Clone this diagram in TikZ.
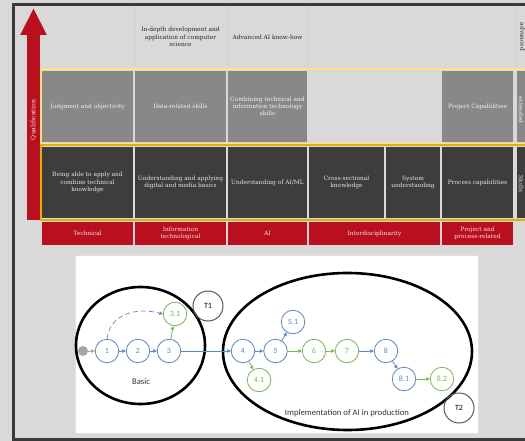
\documentclass[tikz,border=0pt]{standalone}
\usepackage{fontspec}
\setmainfont{DejaVu Serif}
\newfontfamily\diagfont{Carlito}
\usetikzlibrary{arrows.meta, positioning}

\definecolor{pagegray}{HTML}{D9D9D9}
\definecolor{framegray}{HTML}{3A3A3A}
\definecolor{qualred}{HTML}{BA0F1F}
\definecolor{upgray}{HTML}{888888}
\definecolor{lowgray}{HTML}{3D3D3D}
\definecolor{lightgold}{HTML}{FFE37D}
\definecolor{deepgold}{HTML}{E0B100}
\definecolor{stepblue}{HTML}{5B86D6}
\definecolor{stepgreen}{HTML}{7CB853}
\definecolor{ringgray}{HTML}{5A5A5A}
\definecolor{dotgray}{HTML}{A6A6A6}

\tikzset{
  tabtext/.style={font=\fontsize{5.9}{7.3}\selectfont, align=center, inner sep=0pt},
  headtext/.style={tabtext, text=black!85},
  upcell/.style={tabtext, fill=upgray, text=white!94!black, minimum height=71bp},
  lowcell/.style={tabtext, fill=lowgray, text=white!90!black, minimum height=71bp},
  catcell/.style={tabtext, fill=qualred, text=white!88!qualred, minimum height=23bp},
  sidetext/.style={tabtext, rotate=-90},
  headline/.style={pagegray!95!black, line width=0.5bp},
  qualarrow/.style={draw=qualred, line width=13bp, -{Triangle[length=27bp, width=24.5bp]}},
  bluestep/.style={circle, draw=stepblue, text=stepblue, line width=0.8bp, minimum size=23.5bp,
    inner sep=0pt, font=\diagfont\fontsize{8}{9}\selectfont},
  greenstep/.style={bluestep, draw=stepgreen, text=stepgreen},
  tnode/.style={circle, draw=ringgray, line width=1bp, minimum size=30bp, inner sep=0pt,
    font=\diagfont\fontsize{8}{9}\selectfont},
  startdot/.style={circle, fill=dotgray, minimum size=10bp, inner sep=0pt},
  grouplabel/.style={font=\diagfont\fontsize{8.7}{10}\selectfont, text=black!80, inner sep=0pt},
  groupring/.style={draw=black, line width=2.6bp},
  steplink/.style={line width=0.7bp, -{Triangle[length=3.5bp, width=3.5bp]}},
  bluelink/.style={steplink, draw=stepblue, fill=stepblue},
  greenlink/.style={steplink, draw=stepgreen, fill=stepgreen},
  graylink/.style={steplink, draw=dotgray, fill=dotgray},
}

\begin{document}
\begin{tikzpicture}[x=1bp, y=-1bp]
  \useasboundingbox (0,0) rectangle (525,441);
  \clip (0,0) rectangle (525,441);
  \fill[pagegray] (0,0) rectangle (525,441);
  % outer frame
  \draw[framegray, line width=3bp] (13.5,5) rectangle (560,439.7);
  \foreach \xs in {134,227,308,516}
    \draw[headline] (\xs,7) -- (\xs,67);

  % header row
  \node[headtext] (hdB) at (180.5,37) {In-depth development and\\application of computer\\science};
  \node[headtext] (hdC) at (267.5,37) {Advanced AI know-how};
  \node[sidetext, text=black!85] (hdG) at (522.5,37) {advanced};

  % yellow bands
  \draw[lightgold, line width=1.8bp] (41,69) rectangle (560,144);
  \draw[deepgold, line width=2bp] (41,145.5) rectangle (560,220);

  % upper row
  \node[upcell, minimum width=91bp] (upA) at (87.5,106.5) {Judgment and objectivity};
  \node[upcell, minimum width=91bp] (upB) at (180.5,106.5) {Data-related skills};
  \node[upcell, minimum width=79bp] (upC) at (267.5,106.5) {Combining technical and\\information technology\\skills};
  \node[upcell, minimum width=71bp] (upF) at (477.5,106.5) {Project Capabilities};
  \node[upcell, minimum width=24bp] (upG) at (529,106.5) {};
  \node[sidetext, text=white!94!black] (upGtext) at (521,110) {extended};

  % lower row
  \node[lowcell, minimum width=91bp] (loA) at (87.5,182.5) {Being able to apply and\\combine technical\\knowledge};
  \node[lowcell, minimum width=91bp] (loB) at (180.5,182.5) {Understanding and applying\\digital and media basics};
  \node[lowcell, minimum width=79bp] (loC) at (267.5,182.5) {Understanding of AI/ML};
  \node[lowcell, minimum width=75bp] (loD) at (346.5,182.5) {Cross-sectional\\knowledge};
  \node[lowcell, minimum width=54bp] (loE) at (413,182.5) {System\\understanding};
  \node[lowcell, minimum width=71bp] (loF) at (477.5,182.5) {Process capabilities};
  \node[lowcell, minimum width=24bp] (loG) at (529,182.5) {};
  \node[sidetext, text=white!90!black] (loGtext) at (521,184) {Skills};

  % categories
  \node[catcell, minimum width=91bp] (catA) at (87.5,233.5) {Technical};
  \node[catcell, minimum width=91bp] (catB) at (180.5,233.5) {Information\\technological};
  \node[catcell, minimum width=79bp] (catC) at (267.5,233.5) {AI};
  \node[catcell, minimum width=131bp] (catD) at (374.5,233.5) {Interdisciplinarity};
  \node[catcell, minimum width=71bp] (catF) at (477.5,233.5) {Project and\\process-related};

  % qualification axis
  \coordinate (qbase) at (33.5,220);
  \coordinate (qtop) at (33.5,8);
  \draw[qualarrow] (qbase) -- (qtop);
  \node[tabtext, rotate=90, font=\fontsize{6.2}{7}\selectfont, text=white!88!qualred] (qlabel) at (33.5,120) {Qualification};

  % learning path panel
  \draw[draw=black!12, fill=white, line width=0.6bp] (75,255) rectangle (478,433);
  \draw[groupring] (140.5,345.5) ellipse [x radius=64.5bp, y radius=58.5bp];
  \draw[groupring] (347.5,351.5) ellipse [x radius=124.5bp, y radius=78.5bp];
  \node[grouplabel] (basiclbl) at (141,382) {Basic};
  \node[grouplabel] (impllbl) at (347,413) {Implementation of AI in production};
  \node[tnode] (t1) at (208,306) {T1};
  \node[tnode] (t2) at (459,408) {T2};

  \node[startdot] (s0) at (83,351) {};
  \node[bluestep] (n1) at (107,351) {1};
  \node[bluestep] (n2) at (138,351) {2};
  \node[bluestep] (n3) at (169,351) {3};
  \node[greenstep] (n31) at (175,314) {3.1};
  \node[bluestep] (n4) at (243,351) {4};
  \node[greenstep] (n41) at (259,380) {4.1};
  \node[bluestep] (n5) at (275.5,351) {5};
  \node[bluestep] (n51) at (293,322) {5.1};
  \node[greenstep] (n6) at (314,351) {6};
  \node[greenstep] (n7) at (347,351) {7};
  \node[bluestep] (n8) at (386,351) {8};
  \node[bluestep] (n81) at (404,379) {8.1};
  \node[greenstep] (n82) at (442,379) {8.2};

  \draw[graylink] (s0) -- (n1);
  \draw[bluelink] (n1) -- (n2);
  \draw[bluelink] (n2) -- (n3);
  \draw[bluelink] (n3) -- (n4);
  \draw[bluelink] (n4) -- (n5);
  \draw[bluelink] (n5) -- (n51);
  \draw[bluelink] (n7) -- (n8);
  \draw[bluelink] (n8) -- (n81);
  \draw[greenlink] (n3) -- (n31);
  \draw[greenlink] (n4) -- (n41);
  \draw[greenlink] (n5) -- (n6);
  \draw[greenlink] (n6) -- (n7);
  \draw[greenlink] (n81) -- (n82);
  \draw[bluelink, dash pattern=on 5bp off 3bp, fill=none] (n1.north) .. controls (110,314) and (136,307) .. (n31.west);
\end{tikzpicture}
\end{document}
